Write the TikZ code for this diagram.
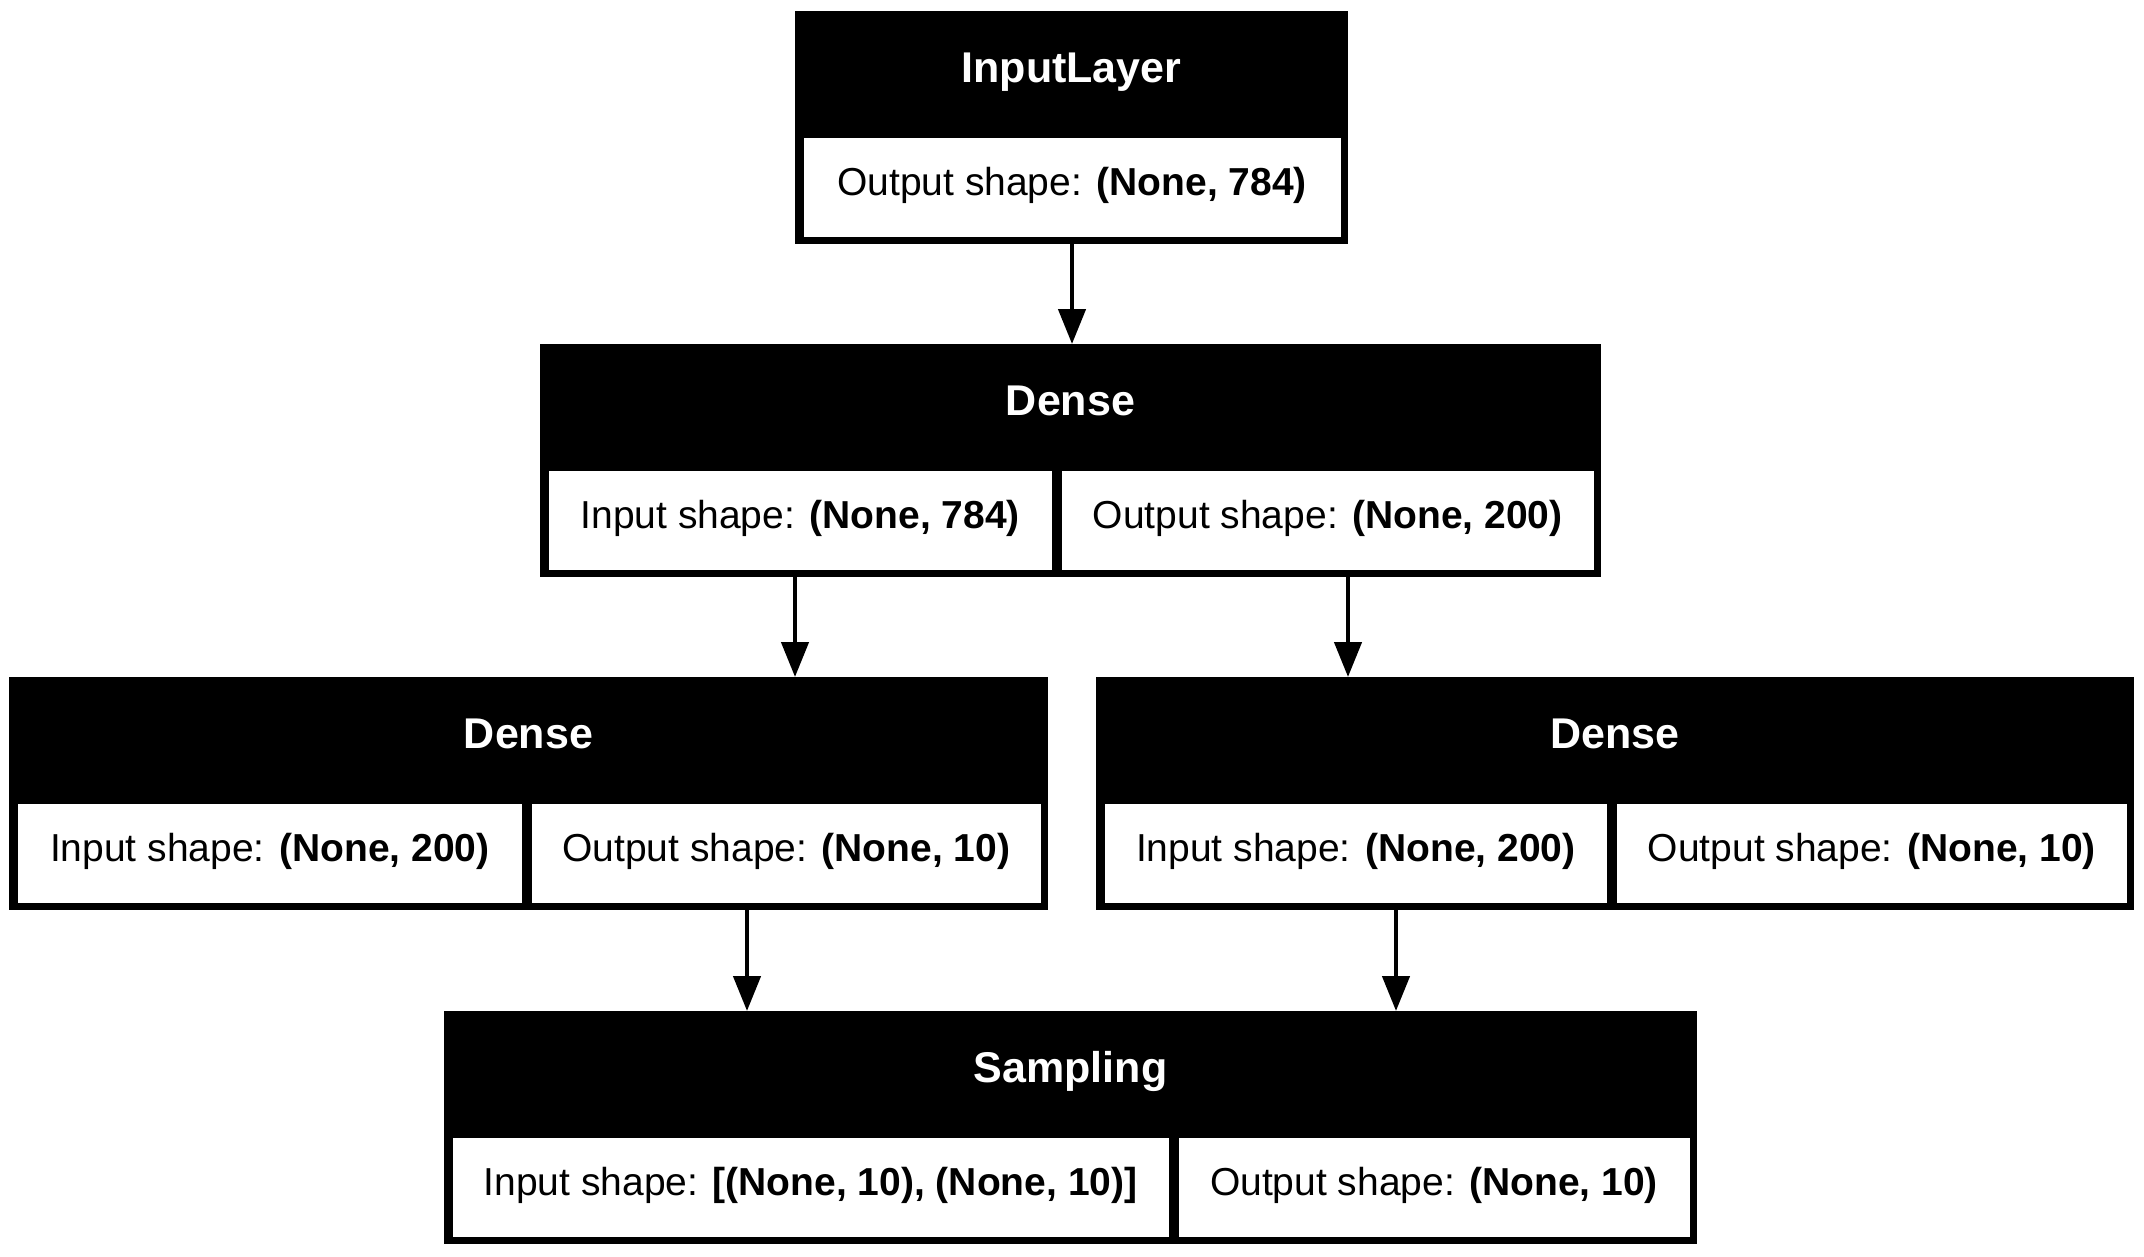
\documentclass[tikz,border=0pt]{standalone}
\usepackage{fontspec}
\setmainfont{Liberation Sans}
\usetikzlibrary{arrows.meta}
\tikzset{
  outerbox/.style={fill=black, draw=none, inner sep=0pt, outer sep=0pt, anchor=north west,
    minimum height=233pt, text=white, text height=71pt, text depth=162pt,
    font=\fontsize{43pt}{50pt}\selectfont\bfseries},
  cellbox/.style={fill=white, draw=black, line width=1pt, inner sep=0pt, outer sep=0pt, anchor=north west,
    minimum height=100pt, text height=58pt, text depth=42pt,
    font=\fontsize{39pt}{45pt}\selectfont},
  arr/.style={-{Triangle[length=35pt,width=27pt]}, line width=4.5pt}
}
\begin{document}
\begin{tikzpicture}[x=1pt,y=-1pt]
\useasboundingbox (0,0) rectangle (2144,1256);
\fill[white] (0,0) rectangle (2144,1256);

% InputLayer
\node[outerbox, minimum width=553pt] (inp) at (795,11) {InputLayer};
\node[cellbox, minimum width=538pt] (inpO) at (803,137) {Output shape: \textbf{(None, 784)}};

% Dense 1
\node[outerbox, minimum width=1061pt] (d1) at (540,344) {Dense};
\node[cellbox, minimum width=504.5pt] (d1I) at (548,470) {Input shape: \textbf{(None, 784)}};
\node[cellbox, minimum width=532.5pt] (d1O) at (1061.5,470) {Output shape: \textbf{(None, 200)}};

% Dense 2
\node[outerbox, minimum width=1039pt] (d2) at (9,677) {Dense};
\node[cellbox, minimum width=505.5pt] (d2I) at (17,803) {Input shape: \textbf{(None, 200)}};
\node[cellbox, minimum width=509.5pt] (d2O) at (531.5,803) {Output shape: \textbf{(None, 10)}};

% Dense 3
\node[outerbox, minimum width=1038pt] (d3) at (1096,677) {Dense};
\node[cellbox, minimum width=503.5pt] (d3I) at (1104,803) {Input shape: \textbf{(None, 200)}};
\node[cellbox, minimum width=510.5pt] (d3O) at (1616.5,803) {Output shape: \textbf{(None, 10)}};

% Sampling
\node[outerbox, minimum width=1253pt] (s) at (444,1011) {Sampling};
\node[cellbox, minimum width=717pt] (sI) at (452,1137) {Input shape: \textbf{[(None, 10), (None, 10)]}};
\node[cellbox, minimum width=512pt] (sO) at (1178,1137) {Output shape: \textbf{(None, 10)}};

% connector x positions
\coordinate (xa) at (1072,0);
\coordinate (xb) at (795,0);
\coordinate (xc) at (1348,0);
\coordinate (xd) at (747,0);
\coordinate (xe) at (1396,0);

\draw[arr] (inp.south -| xa) -- (d1.north -| xa);
\draw[arr] (d1.south -| xb) -- (d2.north -| xb);
\draw[arr] (d1.south -| xc) -- (d3.north -| xc);
\draw[arr] (d2.south -| xd) -- (s.north -| xd);
\draw[arr] (d3.south -| xe) -- (s.north -| xe);
\end{tikzpicture}
\end{document}
